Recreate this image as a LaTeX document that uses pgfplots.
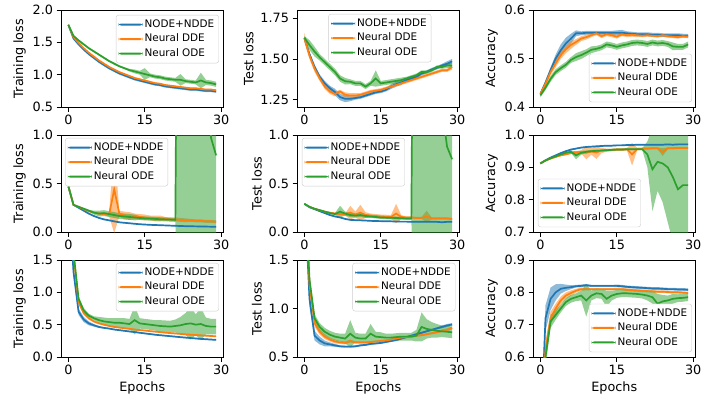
\documentclass[border=0pt]{standalone}
\usepackage{fontspec}
\setmainfont{DejaVu Sans}
\usepackage{pgfplots}
\pgfplotsset{compat=1.18}
\usepackage{pgfplotstable}
\usepgfplotslibrary{fillbetween}
\definecolor{c1}{HTML}{1F77B4}
\definecolor{c2}{HTML}{FF7F0E}
\definecolor{c3}{HTML}{2CA02C}
\definecolor{lgframe}{HTML}{CCCCCC}

% columns: x, a/sa = NODE+NDDE, b/sb = Neural DDE, c/sc = Neural ODE (mean, spread)
\pgfplotstableread{
x a sa b sb c sc
0 1.77 0.01 1.77 0.01 1.77 0.01
1 1.56 0.015 1.58 0.01 1.60 0.015
2 1.47 0.02 1.49 0.01 1.53 0.015
3 1.39 0.02 1.41 0.01 1.47 0.015
4 1.32 0.02 1.34 0.01 1.41 0.015
5 1.26 0.02 1.28 0.01 1.36 0.015
6 1.20 0.02 1.22 0.01 1.31 0.015
7 1.15 0.02 1.17 0.01 1.26 0.015
8 1.10 0.02 1.12 0.01 1.21 0.015
9 1.06 0.02 1.08 0.01 1.17 0.015
10 1.02 0.02 1.04 0.01 1.13 0.015
11 0.99 0.02 1.01 0.01 1.10 0.015
12 0.96 0.02 0.98 0.01 1.07 0.02
13 0.93 0.02 0.95 0.01 1.05 0.03
14 0.91 0.02 0.93 0.01 1.03 0.03
15 0.89 0.02 0.91 0.01 1.01 0.09
16 0.87 0.02 0.89 0.01 0.99 0.03
17 0.85 0.02 0.87 0.01 0.97 0.03
18 0.84 0.02 0.86 0.01 0.96 0.03
19 0.82 0.02 0.84 0.01 0.94 0.03
20 0.81 0.02 0.83 0.01 0.93 0.03
21 0.80 0.02 0.82 0.01 0.92 0.03
22 0.79 0.02 0.81 0.01 0.92 0.09
23 0.78 0.02 0.80 0.01 0.90 0.03
24 0.77 0.02 0.79 0.01 0.89 0.03
25 0.77 0.02 0.79 0.01 0.88 0.03
26 0.76 0.02 0.78 0.01 0.91 0.12
27 0.75 0.02 0.77 0.01 0.88 0.04
28 0.75 0.02 0.77 0.01 0.87 0.04
29 0.74 0.02 0.76 0.01 0.85 0.04
}\tAA

\pgfplotstableread{
x a sa b sb c sc
0 1.626 0.01 1.63 0.03 1.63 0.01
1 1.53 0.01 1.52 0.02 1.585 0.03
2 1.45 0.015 1.44 0.02 1.545 0.03
3 1.39 0.015 1.38 0.015 1.51 0.02
4 1.35 0.015 1.33 0.015 1.48 0.02
5 1.32 0.015 1.30 0.015 1.45 0.02
6 1.297 0.02 1.285 0.015 1.42 0.02
7 1.266 0.02 1.30 0.01 1.38 0.02
8 1.255 0.02 1.28 0.015 1.363 0.02
9 1.255 0.015 1.275 0.015 1.36 0.015
10 1.26 0.01 1.275 0.015 1.35 0.015
11 1.265 0.01 1.28 0.01 1.35 0.015
12 1.275 0.01 1.29 0.01 1.33 0.015
13 1.285 0.01 1.30 0.01 1.35 0.015
14 1.295 0.01 1.305 0.01 1.38 0.05
15 1.30 0.01 1.31 0.01 1.35 0.015
16 1.31 0.01 1.32 0.01 1.355 0.015
17 1.33 0.015 1.33 0.01 1.36 0.015
18 1.345 0.015 1.34 0.01 1.365 0.015
19 1.355 0.015 1.35 0.01 1.37 0.015
20 1.37 0.01 1.36 0.01 1.38 0.01
21 1.38 0.01 1.37 0.01 1.39 0.01
22 1.39 0.01 1.38 0.01 1.40 0.01
23 1.41 0.01 1.39 0.01 1.42 0.01
24 1.42 0.01 1.40 0.01 1.42 0.01
25 1.435 0.01 1.41 0.01 1.43 0.01
26 1.445 0.01 1.42 0.01 1.45 0.01
27 1.46 0.01 1.43 0.01 1.45 0.01
28 1.47 0.015 1.43 0.01 1.46 0.015
29 1.485 0.015 1.45 0.015 1.46 0.015
}\tAB

\pgfplotstableread{
x a sa b sb c sc
0 0.427 0.003 0.427 0.004 0.424 0.004
1 0.45 0.005 0.448 0.005 0.44 0.005
2 0.476 0.006 0.472 0.006 0.458 0.006
3 0.50 0.008 0.49 0.008 0.472 0.006
4 0.517 0.012 0.507 0.008 0.48 0.006
5 0.531 0.012 0.519 0.008 0.487 0.006
6 0.541 0.01 0.528 0.008 0.497 0.006
7 0.552 0.006 0.534 0.006 0.503 0.008
8 0.552 0.004 0.541 0.005 0.507 0.008
9 0.553 0.004 0.544 0.005 0.512 0.007
10 0.553 0.004 0.548 0.004 0.518 0.007
11 0.553 0.004 0.552 0.004 0.52 0.006
12 0.553 0.004 0.546 0.004 0.523 0.006
13 0.553 0.004 0.55 0.004 0.529 0.006
14 0.553 0.004 0.548 0.004 0.527 0.006
15 0.553 0.005 0.545 0.004 0.524 0.006
16 0.553 0.006 0.55 0.004 0.527 0.006
17 0.552 0.004 0.548 0.004 0.529 0.006
18 0.551 0.004 0.549 0.004 0.532 0.006
19 0.55 0.004 0.548 0.004 0.533 0.006
20 0.55 0.004 0.547 0.003 0.532 0.006
21 0.55 0.004 0.548 0.003 0.53 0.006
22 0.549 0.004 0.547 0.003 0.533 0.006
23 0.549 0.004 0.546 0.003 0.531 0.006
24 0.548 0.004 0.548 0.003 0.532 0.006
25 0.548 0.004 0.546 0.003 0.53 0.006
26 0.548 0.004 0.545 0.003 0.525 0.008
27 0.548 0.004 0.544 0.003 0.524 0.006
28 0.547 0.004 0.546 0.003 0.524 0.006
29 0.547 0.004 0.545 0.003 0.529 0.006
}\tAC

\pgfplotstableread{
x a sa b sb c sc
0 0.47 0.005 0.47 0.005 0.47 0.005
1 0.28 0.005 0.28 0.005 0.28 0.005
2 0.25 0.005 0.26 0.005 0.26 0.005
3 0.22 0.005 0.235 0.005 0.24 0.01
4 0.19 0.005 0.215 0.005 0.22 0.01
5 0.165 0.005 0.20 0.005 0.20 0.02
6 0.145 0.005 0.19 0.01 0.19 0.03
7 0.13 0.005 0.185 0.01 0.195 0.03
8 0.12 0.005 0.18 0.02 0.185 0.03
9 0.11 0.005 0.44 0.45 0.175 0.03
10 0.10 0.005 0.19 0.03 0.165 0.03
11 0.095 0.005 0.17 0.04 0.16 0.03
12 0.09 0.005 0.165 0.04 0.155 0.03
13 0.085 0.005 0.16 0.03 0.15 0.03
14 0.08 0.005 0.155 0.03 0.145 0.02
15 0.077 0.005 0.15 0.03 0.14 0.02
16 0.074 0.005 0.145 0.025 0.138 0.02
17 0.072 0.005 0.14 0.03 0.135 0.02
18 0.07 0.005 0.14 0.03 0.132 0.02
19 0.068 0.005 0.135 0.02 0.13 0.02
20 0.066 0.005 0.13 0.02 0.128 0.02
21 0.064 0.005 0.13 0.02 0.125 0.02
22 0.062 0.005 0.125 0.02 8.0 10
23 0.06 0.005 0.12 0.02 6.0 8
24 0.059 0.005 0.12 0.015 5.0 7
25 0.058 0.005 0.115 0.015 4.0 6
26 0.057 0.005 0.115 0.015 3.5 5
27 0.056 0.005 0.11 0.015 3.0 4
28 0.055 0.005 0.11 0.015 0.97 1.5
29 0.055 0.005 0.105 0.015 0.79 1.2
}\tBA

\pgfplotstableread{
x a sa b sb c sc
0 0.29 0.005 0.29 0.005 0.29 0.005
1 0.255 0.005 0.26 0.005 0.26 0.005
2 0.235 0.005 0.24 0.005 0.24 0.005
3 0.215 0.005 0.225 0.005 0.225 0.005
4 0.195 0.005 0.21 0.005 0.21 0.005
5 0.175 0.005 0.20 0.005 0.195 0.01
6 0.16 0.005 0.19 0.01 0.185 0.01
7 0.15 0.005 0.185 0.01 0.21 0.06
8 0.135 0.005 0.18 0.01 0.19 0.02
9 0.125 0.005 0.20 0.07 0.175 0.02
10 0.122 0.005 0.18 0.03 0.17 0.02
11 0.12 0.005 0.20 0.08 0.175 0.02
12 0.118 0.005 0.175 0.03 0.165 0.02
13 0.115 0.005 0.17 0.02 0.16 0.015
14 0.113 0.005 0.165 0.02 0.155 0.015
15 0.112 0.005 0.16 0.02 0.15 0.015
16 0.11 0.005 0.158 0.02 0.148 0.015
17 0.11 0.005 0.155 0.02 0.146 0.015
18 0.108 0.005 0.19 0.1 0.145 0.015
19 0.107 0.005 0.155 0.02 0.142 0.015
20 0.107 0.005 0.15 0.01 0.14 0.015
21 0.105 0.005 0.15 0.01 0.14 0.015
22 0.105 0.005 0.145 0.01 8.0 10
23 0.105 0.005 0.145 0.01 6.0 8
24 0.105 0.005 0.16 0.06 5.0 7
25 0.105 0.005 0.14 0.01 4.0 6
26 0.105 0.005 0.14 0.01 3.0 4.5
27 0.10 0.005 0.14 0.01 1.3 2.0
28 0.105 0.005 0.14 0.01 0.88 1.4
29 0.105 0.005 0.135 0.01 0.75 1.2
}\tBB

\pgfplotstableread{
x a sa b sb c sc
0 0.912 0.002 0.912 0.002 0.912 0.002
1 0.922 0.002 0.921 0.002 0.921 0.002
2 0.93 0.002 0.927 0.002 0.928 0.002
3 0.937 0.002 0.932 0.002 0.934 0.002
4 0.944 0.002 0.937 0.002 0.94 0.002
5 0.95 0.002 0.94 0.002 0.945 0.002
6 0.955 0.002 0.944 0.003 0.948 0.004
7 0.958 0.002 0.946 0.004 0.937 0.012
8 0.961 0.002 0.948 0.005 0.945 0.006
9 0.963 0.002 0.945 0.02 0.948 0.004
10 0.964 0.002 0.949 0.01 0.95 0.004
11 0.965 0.002 0.946 0.02 0.951 0.004
12 0.966 0.002 0.952 0.008 0.952 0.003
13 0.967 0.002 0.953 0.005 0.953 0.003
14 0.967 0.002 0.954 0.004 0.954 0.003
15 0.968 0.002 0.955 0.004 0.955 0.003
16 0.968 0.002 0.955 0.004 0.955 0.003
17 0.969 0.002 0.956 0.004 0.956 0.003
18 0.969 0.002 0.94 0.035 0.956 0.003
19 0.97 0.002 0.957 0.004 0.956 0.003
20 0.97 0.002 0.958 0.003 0.956 0.003
21 0.97 0.002 0.958 0.003 0.94 0.04
22 0.97 0.002 0.959 0.003 0.894 0.13
23 0.97 0.002 0.959 0.003 0.917 0.09
24 0.97 0.002 0.947 0.012 0.912 0.12
25 0.971 0.002 0.959 0.003 0.90 0.17
26 0.97 0.002 0.959 0.003 0.87 0.2
27 0.971 0.002 0.96 0.003 0.832 0.2
28 0.971 0.002 0.96 0.003 0.845 0.2
29 0.971 0.002 0.96 0.003 0.845 0.2
}\tBC

\pgfplotstableread{
x a sa b sb c sc
0 2.6 0.05 2.7 0.05 2.7 0.05
1 1.32 0.06 1.6 0.05 1.62 0.05
2 0.70 0.05 0.85 0.04 0.9 0.04
3 0.58 0.04 0.68 0.03 0.72 0.04
4 0.52 0.03 0.6 0.02 0.64 0.03
5 0.49 0.02 0.55 0.015 0.6 0.03
6 0.465 0.015 0.52 0.01 0.57 0.05
7 0.45 0.01 0.5 0.01 0.55 0.06
8 0.44 0.01 0.48 0.01 0.54 0.06
9 0.425 0.01 0.465 0.01 0.53 0.07
10 0.415 0.01 0.455 0.01 0.53 0.07
11 0.405 0.01 0.445 0.01 0.52 0.08
12 0.395 0.01 0.435 0.01 0.51 0.08
13 0.385 0.01 0.425 0.01 0.57 0.22
14 0.375 0.01 0.417 0.01 0.52 0.08
15 0.365 0.01 0.41 0.01 0.51 0.08
16 0.355 0.01 0.40 0.01 0.5 0.08
17 0.345 0.01 0.393 0.01 0.49 0.08
18 0.337 0.01 0.385 0.01 0.48 0.09
19 0.33 0.01 0.377 0.01 0.475 0.09
20 0.322 0.01 0.37 0.01 0.47 0.09
21 0.315 0.01 0.364 0.01 0.48 0.1
22 0.307 0.01 0.357 0.01 0.49 0.13
23 0.30 0.01 0.35 0.01 0.51 0.17
24 0.293 0.01 0.345 0.01 0.52 0.25
25 0.287 0.01 0.34 0.01 0.5 0.16
26 0.28 0.01 0.335 0.01 0.51 0.25
27 0.275 0.01 0.33 0.01 0.48 0.13
28 0.27 0.01 0.325 0.01 0.47 0.12
29 0.265 0.01 0.32 0.01 0.47 0.12
}\tCA

\pgfplotstableread{
x a sa b sb c sc
0 2.24 0.1 2.4 0.1 2.4 0.1
1 1.1 0.08 1.25 0.06 1.3 0.06
2 0.72 0.05 0.85 0.04 0.9 0.04
3 0.67 0.04 0.76 0.03 0.81 0.04
4 0.64 0.03 0.71 0.025 0.76 0.04
5 0.63 0.02 0.68 0.02 0.73 0.04
6 0.62 0.015 0.66 0.02 0.71 0.04
7 0.61 0.01 0.65 0.015 0.70 0.04
8 0.607 0.01 0.645 0.015 0.69 0.05
9 0.607 0.01 0.665 0.015 0.74 0.14
10 0.61 0.01 0.65 0.01 0.70 0.05
11 0.62 0.01 0.65 0.01 0.69 0.05
12 0.625 0.01 0.65 0.01 0.69 0.05
13 0.635 0.01 0.655 0.01 0.74 0.1
14 0.64 0.01 0.66 0.01 0.71 0.05
15 0.645 0.01 0.665 0.01 0.705 0.05
16 0.655 0.01 0.67 0.01 0.70 0.04
17 0.665 0.01 0.68 0.01 0.70 0.04
18 0.675 0.01 0.69 0.01 0.705 0.04
19 0.69 0.01 0.70 0.01 0.71 0.04
20 0.705 0.01 0.705 0.01 0.71 0.04
21 0.72 0.01 0.71 0.01 0.71 0.04
22 0.735 0.01 0.72 0.01 0.72 0.06
23 0.75 0.01 0.725 0.01 0.81 0.15
24 0.765 0.01 0.735 0.01 0.79 0.1
25 0.78 0.01 0.745 0.01 0.78 0.08
26 0.795 0.01 0.755 0.01 0.77 0.07
27 0.81 0.015 0.77 0.015 0.765 0.06
28 0.825 0.015 0.78 0.015 0.76 0.06
29 0.835 0.015 0.80 0.015 0.755 0.06
}\tCB

\pgfplotstableread{
x a sa b sb c sc
0 0.32 0.05 0.40 0.04 0.30 0.04
1 0.72 0.04 0.62 0.03 0.60 0.03
2 0.78 0.035 0.72 0.02 0.71 0.02
3 0.80 0.025 0.75 0.015 0.73 0.015
4 0.811 0.015 0.775 0.012 0.75 0.012
5 0.814 0.01 0.79 0.01 0.77 0.012
6 0.816 0.006 0.798 0.008 0.78 0.012
7 0.819 0.004 0.805 0.006 0.785 0.012
8 0.82 0.004 0.81 0.005 0.79 0.015
9 0.822 0.004 0.81 0.004 0.775 0.05
10 0.82 0.003 0.81 0.004 0.79 0.015
11 0.82 0.003 0.81 0.004 0.797 0.015
12 0.82 0.003 0.81 0.004 0.795 0.015
13 0.82 0.003 0.81 0.004 0.78 0.025
14 0.82 0.003 0.81 0.004 0.79 0.015
15 0.82 0.004 0.81 0.004 0.795 0.012
16 0.819 0.004 0.81 0.004 0.797 0.012
17 0.817 0.004 0.808 0.004 0.797 0.012
18 0.816 0.004 0.807 0.004 0.796 0.012
19 0.815 0.004 0.806 0.004 0.795 0.012
20 0.814 0.004 0.805 0.004 0.793 0.012
21 0.813 0.004 0.804 0.004 0.79 0.015
22 0.812 0.004 0.803 0.004 0.785 0.02
23 0.812 0.004 0.802 0.004 0.765 0.03
24 0.811 0.004 0.802 0.004 0.772 0.02
25 0.81 0.004 0.801 0.004 0.775 0.015
26 0.81 0.004 0.8 0.004 0.78 0.015
27 0.809 0.004 0.8 0.004 0.782 0.012
28 0.809 0.004 0.799 0.004 0.783 0.012
29 0.808 0.004 0.798 0.004 0.785 0.012
}\tCC

\newcommand{\series}[3]{%
  \addplot[draw=none, name path=U#2, forget plot] table[x=x, y expr=\thisrow{#2}+\thisrow{s#2}] {#1};
  \addplot[draw=none, name path=L#2, forget plot] table[x=x, y expr=\thisrow{#2}-\thisrow{s#2}] {#1};
  \addplot[fill=#3, fill opacity=0.5, draw=none, forget plot] fill between[of=U#2 and L#2];
  \addplot[#3, line width=1.7pt] table[x=x, y=#2] {#1};
}
\newcommand{\allseries}[1]{\series{#1}{a}{c1}\series{#1}{b}{c2}\series{#1}{c}{c3}}

\pgfplotsset{
  sub/.style={
    scale only axis, width=162.5pt, height=97pt,
    xmin=-1.45, xmax=30.45, xtick={0,15,30}, xticklabels={0,15,30},
    tick align=outside, major tick length=4.5pt,
    xtick pos=left, ytick pos=left,
    tick style={black, line width=0.8pt},
    axis line style={black, line width=0.8pt},
    ticklabel style={font=\fontsize{12.8}{14}\selectfont},
    label style={font=\fontsize{12.8}{14}\selectfont},
    legend cell align=left,
    legend style={draw=lgframe, rounded corners=2.5pt, fill=white,
      font=\fontsize{10.4}{12}\selectfont, inner sep=2.5pt, row sep=0.5pt,
      nodes={inner sep=2pt, text height=7.8pt, text depth=2.2pt}},
    legend image code/.code={\fill[##1, draw=none] (0pt,-1pt) rectangle (24pt,1pt);},
    legend entries={NODE+NDDE, Neural DDE, Neural ODE},
  },
}

\begin{document}
\begin{tikzpicture}
% Row 1
\begin{axis}[sub, at={(61pt,-107pt)}, anchor=south west,
  ymin=0.5, ymax=2.0, ytick={0.5,1.0,1.5,2.0}, yticklabels={0.5,1.0,1.5,2.0},
  ylabel={Training loss}, legend style={at={(0.972,0.95)}, anchor=north east}]
\allseries{\tAA}
\end{axis}
\begin{axis}[sub, at={(297pt,-107pt)}, anchor=south west,
  ymin=1.205, ymax=1.80, ytick={1.25,1.50,1.75}, yticklabels={1.25,1.50,1.75},
  ylabel={Test loss}, legend style={at={(0.51,0.96)}, anchor=north}]
\allseries{\tAB}
\end{axis}
\begin{axis}[sub, at={(533pt,-107pt)}, anchor=south west,
  ymin=0.4, ymax=0.6, ytick={0.4,0.5,0.6}, yticklabels={0.4,0.5,0.6},
  ylabel={Accuracy}, legend style={at={(0.978,0.05)}, anchor=south east}]
\allseries{\tAC}
\end{axis}
% Row 2
\begin{axis}[sub, at={(61pt,-232pt)}, anchor=south west,
  ymin=0, ymax=1.0, ytick={0,0.5,1.0}, yticklabels={0.0,0.5,1.0},
  ylabel={Training loss}, legend style={at={(0.025,0.97)}, anchor=north west}]
\allseries{\tBA}
\end{axis}
\begin{axis}[sub, at={(297pt,-232pt)}, anchor=south west,
  ymin=0, ymax=1.0, ytick={0,0.5,1.0}, yticklabels={0.0,0.5,1.0},
  ylabel={Test loss}, legend style={at={(0.03,0.97)}, anchor=north west}]
\allseries{\tBB}
\end{axis}
\begin{axis}[sub, at={(533pt,-232pt)}, anchor=south west,
  ymin=0.7, ymax=1.0, ytick={0.7,0.8,0.9,1.0}, yticklabels={0.7,0.8,0.9,1.0},
  ylabel={Accuracy}, legend style={at={(0.03,0.05)}, anchor=south west}]
\allseries{\tBC}
\end{axis}
% Row 3
\begin{axis}[sub, at={(61pt,-357pt)}, anchor=south west,
  ymin=0, ymax=1.5, ytick={0,0.5,1.0,1.5}, yticklabels={0.0,0.5,1.0,1.5},
  ylabel={Training loss}, xlabel={Epochs}, legend style={at={(0.972,0.97)}, anchor=north east}]
\allseries{\tCA}
\end{axis}
\begin{axis}[sub, at={(297pt,-357pt)}, anchor=south west,
  ymin=0.5, ymax=1.5, ytick={0.5,1.0,1.5}, yticklabels={0.5,1.0,1.5},
  ylabel={Test loss}, xlabel={Epochs}, legend style={at={(0.975,0.97)}, anchor=north east}]
\allseries{\tCB}
\end{axis}
\begin{axis}[sub, at={(533pt,-357pt)}, anchor=south west,
  ymin=0.6, ymax=0.9, ytick={0.6,0.7,0.8,0.9}, yticklabels={0.6,0.7,0.8,0.9},
  ylabel={Accuracy}, xlabel={Epochs}, legend style={at={(0.978,0.05)}, anchor=south east}]
\allseries{\tCC}
\end{axis}
\pgfresetboundingbox
\useasboundingbox (0,0) rectangle (708pt,-399pt);
\end{tikzpicture}
\end{document}
